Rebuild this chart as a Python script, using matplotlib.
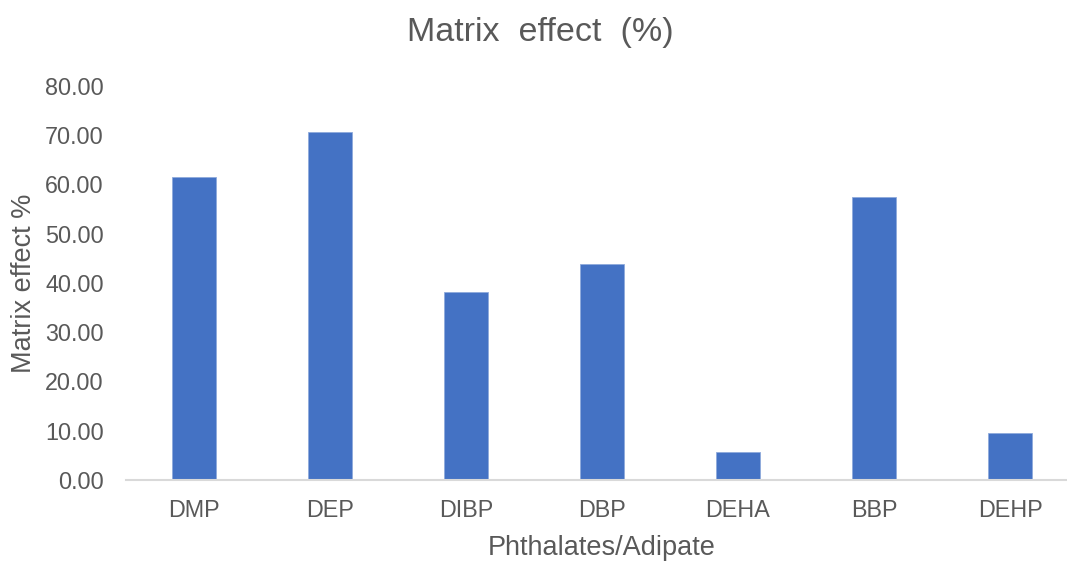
import matplotlib.pyplot as plt

# Data
compounds = ['DMP', 'DEP', 'DIBP', 'DBP', 'DEHA', 'BBP', 'DEHP']
matrix_effect = [61.6, 70.6, 38.2, 43.8, 5.6, 57.4, 9.5]
yticks = [0, 10, 20, 30, 40, 50, 60, 70, 80]

plt.rcParams['font.family'] = ['Liberation Sans', 'DejaVu Sans']
grey = '#595959'

W, H = 1067, 561
fig = plt.figure(figsize=(W / 100, H / 100), dpi=100)
# plot area runs past the right edge, like the original
ax = fig.add_axes([126 / W, (H - 480) / H, 952 / W, 394 / H])

x = range(len(compounds))
ax.bar(x, matrix_effect, width=0.32, color='#4472C4', edgecolor='#8FAADC', linewidth=0.6)

ax.set_xlim(-0.5, len(compounds) - 0.5)
ax.set_ylim(0, 80)
ax.set_xticks(list(x))
ax.set_xticklabels(compounds)
ax.set_yticks(yticks)
ax.set_yticklabels([f'{v:.2f}' for v in yticks])

ax.tick_params(axis='both', length=0, labelsize=16.8, colors=grey)
ax.tick_params(axis='y', pad=16)
ax.tick_params(axis='x', pad=14)

for side in ['top', 'right', 'left']:
    ax.spines[side].set_visible(False)
ax.spines['bottom'].set_color('#D9D9D9')
ax.spines['bottom'].set_linewidth(1.5)

ax.set_xlabel('Phthalates/Adipate', fontsize=19.5, color=grey, labelpad=9)
ax.set_ylabel('Matrix effect %', fontsize=19.5, color=grey, labelpad=6)

fig.text(540 / W, 1 - 33 / H, 'Matrix  effect  (%)', fontsize=24.5, color=grey,
         ha='center', va='center')

fig.savefig('out.png', dpi=100)
